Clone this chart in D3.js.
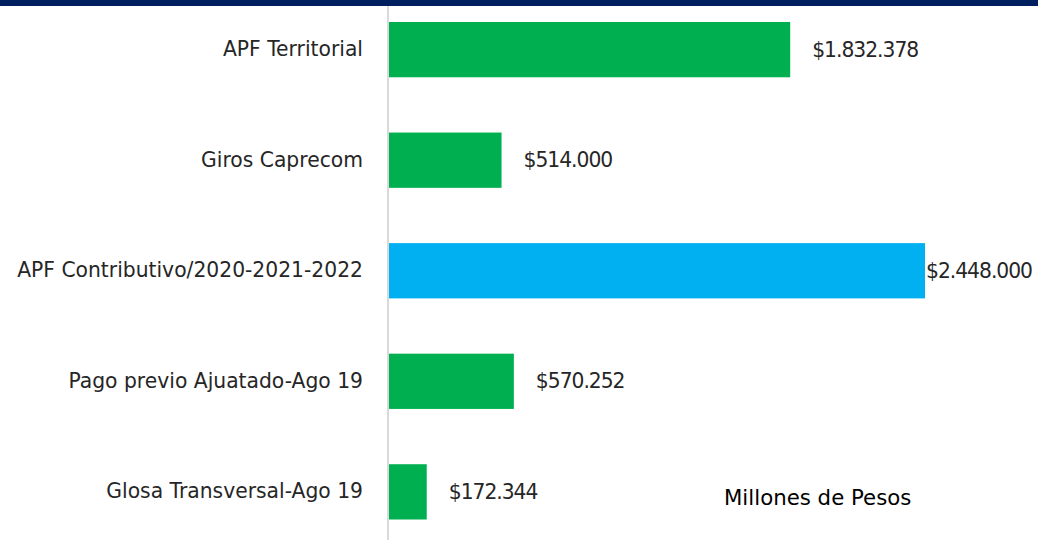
<!DOCTYPE html>
<html lang="en">
<head>
<meta charset="utf-8">
<title>Millones de Pesos</title>
<script src="https://cdn.jsdelivr.net/npm/d3@7"></script>
<style>
  body { margin: 0; background: #fff; }
  svg text { font-family: "DejaVu Sans", sans-serif; }
</style>
</head>
<body>
<div id="chart"></div>
<script>
// chart data
var categories = ["APF Territorial", "Giros Caprecom", "APF Contributivo/2020-2021-2022",
                  "Pago previo Ajuatado-Ago 19", "Glosa Transversal-Ago 19"];
var values = [1832378, 514000, 2448000, 570252, 172344];
var valueLabels = ["$1.832.378", "$514.000", "$2.448.000", "$570.252", "$172.344"];
var highlight = "APF Contributivo/2020-2021-2022";

var W = 1038, H = 540;
var x0 = 389;

var svg = d3.select("#chart").append("svg")
    .attr("width", W).attr("height", H);

var x = d3.scaleLinear().domain([0, 2448000]).range([x0, 925]);
var y = d3.scaleBand().domain(categories).range([22, 519.5])
    .paddingInner(0.5).paddingOuter(0);

// top band
svg.append("rect").attr("x", 0).attr("y", 0).attr("width", W).attr("height", 6)
    .attr("fill", "#001f5f");

// bars
svg.selectAll("rect.bar")
    .data(categories)
    .enter().append("rect")
    .attr("class", "bar")
    .attr("x", x(0))
    .attr("y", function(d) { return y(d); })
    .attr("width", function(d, i) { return x(values[i]) - x(0); })
    .attr("height", y.bandwidth())
    .attr("fill", function(d) { return d == highlight ? "#00b0f0" : "#00b050"; });

// category axis
var yAxis = d3.axisLeft(y).tickSize(0).tickPadding(25);
var gy = svg.append("g")
    .attr("transform", "translate(" + (x0 - 1) + ",0)")
    .call(yAxis);
gy.select(".domain").remove();
gy.append("line").attr("x1", 0).attr("x2", 0).attr("y1", 6).attr("y2", H)
    .attr("stroke", "#d9d9d9").attr("stroke-width", 2);
var ticks = gy.selectAll(".tick text")
    .attr("font-size", 18)
    .attr("font-family", "'DejaVu Sans', sans-serif")
    .attr("fill", "#262626");

// size the labels so the long one spans the same width as in the source
var sz = 18;
ticks.each(function(d) {
    if (d == highlight) sz = 18 * 346 / this.getComputedTextLength();
});
ticks.attr("font-size", sz);

// value labels
var vals = svg.selectAll("text.val")
    .data(categories)
    .enter().append("text")
    .attr("class", "val")
    .attr("y", function(d) { return y(d) + y.bandwidth() / 2; })
    .attr("dy", "0.35em")
    .attr("font-size", sz)
    .attr("fill", "#262626")
    .text(function(d, i) { return valueLabels[i]; });

// digits are wider in this font: tighten spacing so "$1.832.378" is about 106px
var ls = 0;
vals.each(function(d, i) {
    if (i == 0) ls = (106 - this.getComputedTextLength()) / 10;
});
vals.attr("letter-spacing", ls)
    .attr("x", function(d, i) {
        var w = this.getComputedTextLength();
        var xe = x(values[i]) + 22;
        return xe + w > W ? x(values[i]) + 1 : xe;
    });

// unit note
svg.append("text")
    .attr("x", 724).attr("y", 505)
    .attr("font-size", sz + 1)
    .attr("fill", "#000")
    .text("Millones de Pesos");
</script>
</body>
</html>
